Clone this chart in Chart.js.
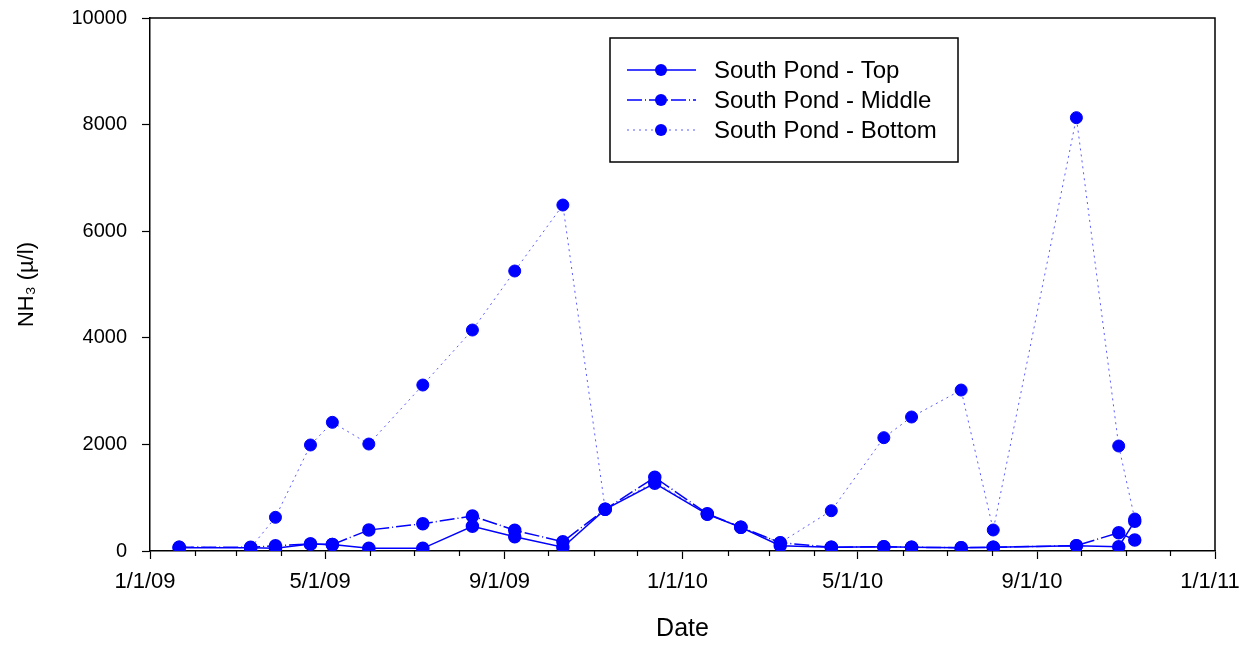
<!DOCTYPE html>
<html>
<head>
<meta charset="utf-8">
<script src="https://cdn.jsdelivr.net/npm/chart.js@4.4.0/dist/chart.umd.min.js"></script>
<style>
  html, body { margin: 0; padding: 0; background: #fff; }
  #wrap { width: 1250px; height: 645px; }
</style>
</head>
<body>
<div id="wrap"><canvas id="chart"></canvas></div>
<script>
// sample dates and NH3 readings
const sampleDates = [
  '2009-01-21', '2009-03-11', '2009-03-28', '2009-04-21', '2009-05-06', '2009-05-31',
  '2009-07-07', '2009-08-10', '2009-09-08', '2009-10-11', '2009-11-09', '2009-12-13',
  '2010-01-18', '2010-02-10', '2010-03-09', '2010-04-13', '2010-05-19', '2010-06-07',
  '2010-07-11', '2010-08-02', '2010-09-28', '2010-10-27', '2010-11-07'
];
const topValues = [60, 60, 50, 130, 120, 50, 50, 463, 268, 70, 782, 1270, 688, 445, 100, 70, 80, 70, 62, 70, 100, 80, 560];
const middleValues = [70, 70, 100, 130, 120, 394, 512, 657, 388, 175, 782, 1382, 700, 445, 156, 70, 80, 70, 62, 70, 100, 343, 206];
const bottomValues = [75, 60, 632, 1989, 2414, 2007, 3114, 4146, 5253, 6491, 782, 1300, 690, 445, 156, 756, 2126, 2514, 3020, 394, 8130, 1970, 600];
const seriesNames = ['South Pond - Top', 'South Pond - Middle', 'South Pond - Bottom'];
const xTickDates = ['2009-01-01', '2009-05-01', '2009-09-01', '2010-01-01', '2010-05-01', '2010-09-01', '2011-01-01'];
const yTickValues = [0, 2000, 4000, 6000, 8000, 10000];

const FONT = "'Liberation Sans', Arial, sans-serif";
const DAY = 86400000;
const START = Date.UTC(2009, 0, 1);

function dayOf(s) {
  const [y, m, d] = s.split('-').map(Number);
  return (Date.UTC(y, m - 1, d) - START) / DAY;
}
function dateLabel(v) {
  const d = new Date(START + v * DAY);
  return (d.getUTCMonth() + 1) + '/' + d.getUTCDate() + '/' + String(d.getUTCFullYear()).slice(2);
}
const pts = (vals) => sampleDates.map((s, i) => ({ x: dayOf(s), y: vals[i] }));

// monthly minor ticks under the x axis
const minorTicks = {
  id: 'minorTicks',
  afterDraw(chart) {
    const ctx = chart.ctx, xs = chart.scales.x, bottom = chart.chartArea.bottom;
    const majors = xTickDates.map(dayOf);
    ctx.save();
    ctx.strokeStyle = '#000';
    ctx.lineWidth = 1.2;
    for (let y = 2009; y <= 2010; y++) {
      for (let m = 0; m < 12; m++) {
        const v = (Date.UTC(y, m, 1) - START) / DAY;
        if (majors.includes(v)) continue;
        const px = Math.round(xs.getPixelForValue(v)) + 0.5;
        ctx.beginPath();
        ctx.moveTo(px, bottom);
        ctx.lineTo(px, bottom + 5);
        ctx.stroke();
      }
    }
    ctx.restore();
  }
};

// top and right edges of the frame
const frame = {
  id: 'frame',
  afterDraw(chart) {
    const { left, right, top, bottom } = chart.chartArea;
    const ctx = chart.ctx;
    ctx.save();
    ctx.strokeStyle = '#000';
    ctx.lineWidth = 1.5;
    ctx.beginPath();
    ctx.moveTo(left, top);
    ctx.lineTo(right, top);
    ctx.lineTo(right, bottom);
    ctx.stroke();
    ctx.restore();
  }
};

// boxed legend with line samples
const boxLegend = {
  id: 'boxLegend',
  afterDraw(chart) {
    const ctx = chart.ctx;
    ctx.save();
    ctx.fillStyle = '#fff';
    ctx.fillRect(610, 38, 348, 124);
    ctx.strokeStyle = '#000';
    ctx.lineWidth = 1.5;
    ctx.strokeRect(610, 38, 348, 124);
    const rows = [70, 100, 130];
    chart.data.datasets.forEach((ds, i) => {
      const y = rows[i];
      ctx.strokeStyle = ds.borderColor;
      ctx.lineWidth = ds.borderWidth;
      ctx.setLineDash(ds.borderDash || []);
      ctx.beginPath();
      ctx.moveTo(627, y);
      ctx.lineTo(696, y);
      ctx.stroke();
      ctx.setLineDash([]);
      ctx.fillStyle = ds.pointBackgroundColor;
      ctx.beginPath();
      ctx.arc(661, y, 6, 0, Math.PI * 2);
      ctx.fill();
      ctx.fillStyle = '#000';
      ctx.font = '24px ' + FONT;
      ctx.textBaseline = 'middle';
      ctx.fillText(ds.label, 714, y + 1);
    });
    ctx.restore();
  }
};

const context2d = document.getElementById('chart').getContext('2d');

new Chart(context2d, {
  type: 'line',
  data: {
    datasets: [
      {
        label: seriesNames[0],
        data: pts(topValues),
        borderColor: '#0000ff',
        borderWidth: 1.5,
        pointBackgroundColor: '#0000ff',
        pointBorderColor: '#0000ff',
        pointRadius: 6,
        tension: 0
      },
      {
        label: seriesNames[1],
        data: pts(middleValues),
        borderColor: '#0000ff',
        borderWidth: 1.5,
        borderDash: [15, 3, 1, 3],
        pointBackgroundColor: '#0000ff',
        pointBorderColor: '#0000ff',
        pointRadius: 6,
        tension: 0
      },
      {
        label: seriesNames[2],
        data: pts(bottomValues),
        borderColor: 'rgba(50,50,255,0.8)',
        borderWidth: 1,
        borderDash: [2, 4],
        pointBackgroundColor: '#0000ff',
        pointBorderColor: '#0000ff',
        pointRadius: 6,
        tension: 0
      }
    ]
  },
  options: {
    responsive: true,
    maintainAspectRatio: false,
    animation: false,
    layout: { padding: { top: 18, right: 35, left: 0, bottom: 0 } },
    plugins: { legend: { display: false }, tooltip: { enabled: false } },
    scales: {
      x: {
        type: 'linear',
        min: dayOf(xTickDates[0]),
        max: dayOf(xTickDates[xTickDates.length - 1]),
        afterBuildTicks: (scale) => { scale.ticks = xTickDates.map(s => ({ value: dayOf(s) })); },
        afterFit: (scale) => { scale.height = 94; scale.paddingLeft = 0; scale.paddingRight = 0; },
        border: { color: '#000', width: 1.5 },
        grid: { drawOnChartArea: false, tickLength: 8, color: '#000', tickWidth: 1.2 },
        ticks: {
          autoSkip: false,
          maxRotation: 0,
          padding: 10,
          labelOffset: -5,
          color: '#000',
          font: { family: FONT, size: 22 },
          callback: (v) => dateLabel(v)
        },
        title: {
          display: true,
          text: 'Date',
          color: '#000',
          font: { family: FONT, size: 25 },
          padding: { top: 4, bottom: 1 }
        }
      },
      y: {
        min: 0,
        max: 10000,
        afterBuildTicks: (scale) => { scale.ticks = yTickValues.map(v => ({ value: v })); },
        afterFit: (scale) => { scale.width = 150; scale.paddingTop = 0; scale.paddingBottom = 0; },
        border: { color: '#000', width: 1.5 },
        grid: { drawOnChartArea: false, tickLength: 8, color: '#000', tickWidth: 1.2 },
        ticks: {
          padding: 15,
          color: '#000',
          font: { family: FONT, size: 20 },
          callback: (v) => String(v)
        },
        title: {
          display: true,
          text: 'NH\u2083 (\u00b5/l)',
          color: '#000',
          font: { family: FONT, size: 22 },
          padding: { top: 14, bottom: 0 }
        }
      }
    }
  },
  plugins: [minorTicks, frame, boxLegend]
});
</script>
</body>
</html>
